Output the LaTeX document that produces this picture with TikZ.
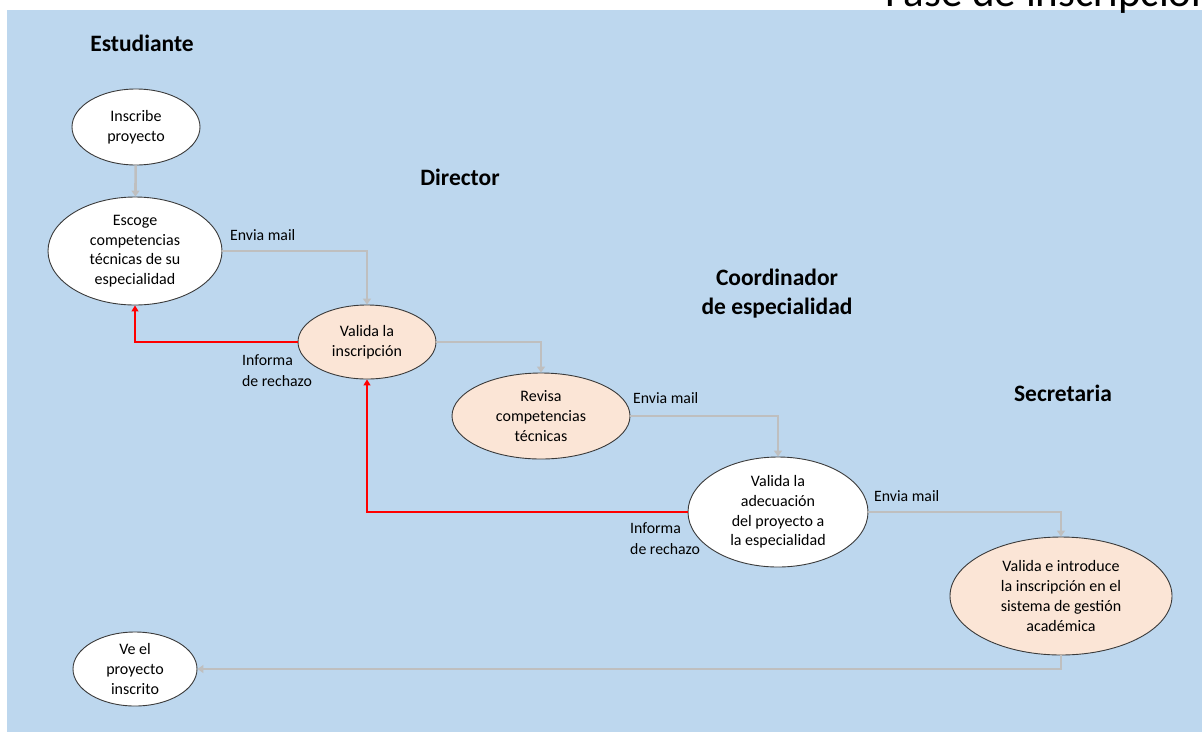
\documentclass[tikz,border=0pt]{standalone}
\usepackage{fontspec}
\setmainfont{Carlito}
\usetikzlibrary{shapes.geometric,arrows.meta}
\definecolor{bg}{HTML}{BDD7EE}
\definecolor{peach}{HTML}{FBE5D6}
\definecolor{gline}{HTML}{BFBFBF}
\definecolor{edgec}{HTML}{3A3A3A}
\begin{document}
\begin{tikzpicture}[x=1pt,y=-1pt,
  proc/.style={ellipse, draw=edgec, line width=0.9pt, inner sep=0pt, align=center,
    font=\fontsize{16}{19.7}\selectfont},
  whiteproc/.style={proc, fill=white},
  peachproc/.style={proc, fill=peach},
  lane/.style={font=\fontsize{23.5}{29}\selectfont\bfseries, align=center, inner sep=0pt},
  lbl/.style={font=\fontsize{15.8}{21}\selectfont, align=left, inner sep=0pt},
  garrow/.style={draw=gline, line width=2.6pt, -{Triangle[width=8pt,length=6pt]}},
  rarrow/.style={draw=red, line width=1.3pt, -{Triangle[width=7pt,length=6pt]}}]
\useasboundingbox (0,0) rectangle (1202,732);
\clip (0,0) rectangle (1202,732);
\fill[bg] (7,10) rectangle (1202,732);
\node[anchor=base west, inner sep=0pt, font=\fontsize{43}{47}\selectfont] (title) at (885,6) {Fase de inscripción};

% lane labels
\node[lane] (lest) at (142,43) {Estudiante};
\node[lane] (ldir) at (460,177) {Director};
\node[lane] (lcoo) at (777,294) {Coordinador\\de especialidad};
\node[lane] (lsec) at (1063,393) {Secretaria};

% processes
\node[whiteproc, minimum width=128pt, minimum height=76pt] (ins) at (136,127) {Inscribe\\proyecto};
\node[whiteproc, minimum width=174pt, minimum height=108pt] (esc) at (135,251) {Escoge\\competencias\\técnicas de su\\especialidad};
\node[peachproc, minimum width=138pt, minimum height=74pt] (val) at (367,342) {Valida la\\inscripción};
\node[peachproc, minimum width=178pt, minimum height=86pt] (rev) at (541,416) {Revisa\\competencias\\técnicas};
\node[whiteproc, minimum width=180pt, minimum height=110pt] (ade) at (778,512) {Valida la\\adecuación\\del proyecto a\\la especialidad};
\node[peachproc, minimum width=222pt, minimum height=118pt] (sec) at (1061,596) {Valida e introduce\\la inscripción en el\\sistema de gestión\\académica};
\node[whiteproc, minimum width=124pt, minimum height=74pt] (ve) at (135,669) {Ve el\\proyecto\\inscrito};

% labels
\node[lbl, anchor=west] (m1) at (230,235) {Envia mail};
\node[lbl, anchor=west] (m2) at (633,398) {Envia mail};
\node[lbl, anchor=west] (m3) at (874,496) {Envia mail};
\node[lbl, anchor=west] (r1) at (242,371) {Informa\\de rechazo};
\node[lbl, anchor=west] (r2) at (630,539) {Informa\\de rechazo};

% connectors
\draw[garrow] (ins) -- (esc);
\draw[garrow] (esc.east) -| (val.north);
\draw[garrow] (val.east) -| (rev.north);
\draw[garrow] (rev.east) -| (ade.north);
\draw[garrow] (ade.east) -| (sec.north);
\draw[garrow] (sec.south) |- (ve.east);
\draw[rarrow] (val.west) -| (esc.south);
\draw[rarrow] (ade.west) -| (val.south);
\end{tikzpicture}
\end{document}
